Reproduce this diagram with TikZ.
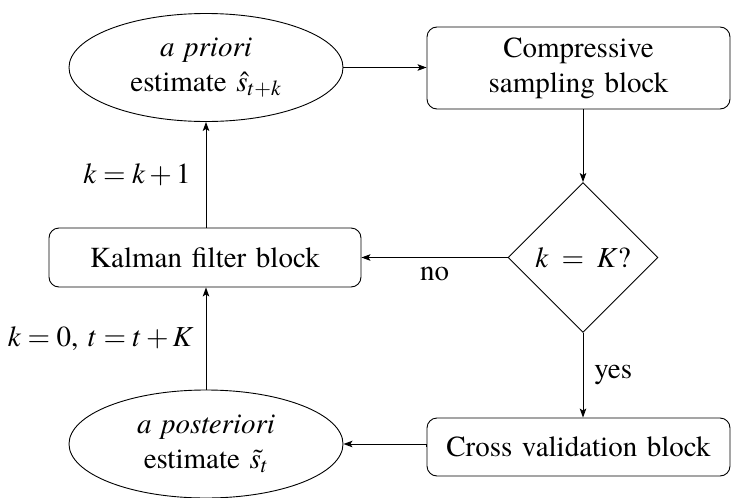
\documentclass[tikz,border=0pt]{standalone}
\usepackage{mathptmx}
\usepackage[no-math]{fontspec}
\setmainfont{texgyretermes}[Extension=.otf, UprightFont=*-regular, ItalicFont=*-italic, BoldFont=*-bold, BoldItalicFont=*-bolditalic]
\usetikzlibrary{shapes.geometric,arrows.meta}
\newcommand{\diagfont}{\fontsize{29}{35}\selectfont\spaceskip=0.33em\relax}
\tikzset{
  base/.style={draw, line width=0.9pt, font=\diagfont, align=center, inner sep=0pt},
  oval/.style={base, ellipse, minimum width=274pt, minimum height=108pt},
  blockbox/.style={base, rectangle, rounded corners=10pt},
  decide/.style={base, diamond, minimum width=150pt, minimum height=150pt},
  conn/.style={line width=0.9pt, -{Stealth[length=9pt,width=6.5pt,inset=2pt]}},
  lbl/.style={font=\diagfont, inner sep=0pt}
}
\begin{document}
\begin{tikzpicture}[x=1pt,y=-1pt]
\useasboundingbox (0,0) rectangle (731,498);
\node[oval] (prior) at (206,67.5) {\textit{a priori}\\estimate $\hat{s}_{t+k}$};
\node[blockbox, minimum width=303pt, minimum height=82pt] (comp) at (578.5,68) {Compressive\\sampling block};
\node[decide] (dec) at (583,257.5) {$k\;=\;K$?};
\node[blockbox, minimum width=312pt, minimum height=59pt] (kal) at (205,257.5) {Kalman filter block};
\node[blockbox, minimum width=303pt, minimum height=58pt] (cross) at (578.5,447) {Cross validation block};
\node[oval] (post) at (206,444) {\textit{a posteriori}\\estimate $\tilde{s}_{t}$};
\draw[conn] (prior.east) -- (comp.west |- prior.east);
\draw[conn] (dec.north |- comp.south) -- (dec.north);
\draw[conn] (dec.west) -- (kal.east) node[lbl, pos=0.5, below=9pt] {no};
\draw[conn] (dec.south) -- (dec.south |- cross.north) node[lbl, midway, right=11pt] {yes};
\draw[conn] (cross.west) -- (post.east -| cross.west) -- (post.east);
\draw[conn] (post.north) -- (kal.south -| post.north) node[lbl, midway, left=12pt] {$k=0$, $t=t+K$};
\draw[conn] (kal.north -| prior.south) -- (prior.south) node[lbl, midway, left=15pt] {$k=k+1$};
\end{tikzpicture}
\end{document}
